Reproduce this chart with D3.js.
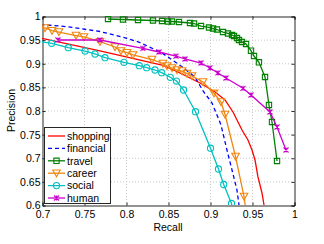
<!DOCTYPE html>
<html>
<head>
<meta charset="utf-8">
<script src="https://cdn.jsdelivr.net/npm/d3@7"></script>
<style>
  body { margin: 0; background: #fff; }
  svg { display: block; font-family: "Liberation Sans", Arial, sans-serif; }
</style>
</head>
<body>
<div id="app"></div>
<script>
(function (d3) {
  'use strict'

  // data (recall, precision)
  const shoppingRecall = [0.69, 0.7, 0.769, 0.8429, 0.8643, 0.8881, 0.906, 0.9179, 0.9274, 0.9381, 0.9452, 0.95, 0.9536, 0.9571, 0.9619, 0.9643, 0.966]
  const shoppingPrec = [0.955, 0.9528, 0.926, 0.8963, 0.8794, 0.8582, 0.8392, 0.8222, 0.7968, 0.7587, 0.7376, 0.7164, 0.6952, 0.6593, 0.6254, 0.6, 0.58]

  const financialRecall = [0.69, 0.7, 0.7298, 0.769, 0.8012, 0.8167, 0.8429, 0.8667, 0.8821, 0.8917, 0.9024, 0.9131, 0.9202, 0.9262, 0.9321, 0.9345, 0.936]
  const financialPrec = [0.984, 0.982, 0.9774, 0.9672, 0.9528, 0.9439, 0.9217, 0.8927, 0.8709, 0.8413, 0.8159, 0.7693, 0.7164, 0.6741, 0.6317, 0.6, 0.58]

  const travelRecall = [0.7786, 0.7964, 0.8143, 0.8321, 0.8429, 0.85, 0.8548, 0.8631, 0.8762, 0.881, 0.8893, 0.8988, 0.9036, 0.9083, 0.9155, 0.9214, 0.9262, 0.9286, 0.9321, 0.9345, 0.9381, 0.9429, 0.9488, 0.9524, 0.9583, 0.9655, 0.9702, 0.9738, 0.9798]
  const travelPrec = [0.9937, 0.9926, 0.9915, 0.9905, 0.9894, 0.9884, 0.9884, 0.9873, 0.9852, 0.9841, 0.9788, 0.9757, 0.9735, 0.9714, 0.9661, 0.963, 0.9598, 0.9577, 0.9534, 0.9492, 0.945, 0.9407, 0.9266, 0.9153, 0.902, 0.8709, 0.8116, 0.7757, 0.6931]

  const careerRecall = [0.69, 0.7036, 0.7119, 0.7202, 0.7405, 0.75, 0.769, 0.7869, 0.794, 0.8012, 0.8083, 0.831, 0.844, 0.8488, 0.8548, 0.8607, 0.8667, 0.8726, 0.8786, 0.8917, 0.9048, 0.9131, 0.9179, 0.9304, 0.9405, 0.9445]
  const careerPrec = [0.978, 0.9746, 0.9689, 0.9661, 0.9587, 0.9556, 0.9456, 0.9344, 0.9259, 0.9223, 0.9175, 0.9079, 0.8995, 0.8942, 0.8899, 0.8857, 0.8836, 0.8783, 0.873, 0.8603, 0.8364, 0.818, 0.7915, 0.7026, 0.618, 0.565]

  const socialRecall = [0.69, 0.7115, 0.7313, 0.7512, 0.7631, 0.775, 0.7976, 0.8158, 0.8246, 0.8345, 0.8425, 0.8527, 0.8601, 0.8685, 0.8827, 0.9006, 0.9101, 0.9163, 0.9256, 0.929]
  const socialPrec = [0.948, 0.9422, 0.9329, 0.9259, 0.9196, 0.9117, 0.902, 0.8948, 0.8906, 0.8857, 0.88, 0.8703, 0.8624, 0.8434, 0.7975, 0.7202, 0.6762, 0.6434, 0.6032, 0.57]

  const humanRecall = [0.719, 0.769, 0.8202, 0.8393, 0.8595, 0.8702, 0.8893, 0.9, 0.9095, 0.919, 0.9393, 0.9488, 0.9714, 0.9798, 0.9905]
  const humanPrec = [0.9492, 0.9492, 0.9316, 0.9238, 0.9153, 0.909, 0.9005, 0.89, 0.8794, 0.8688, 0.847, 0.8328, 0.7968, 0.7651, 0.7164]

  const xTicks = [0.7, 0.75, 0.8, 0.85, 0.9, 0.95, 1]
  const yTicks = [0.6, 0.65, 0.7, 0.75, 0.8, 0.85, 0.9, 0.95, 1]

  const series = [
    { name: 'shopping', x: shoppingRecall, y: shoppingPrec, color: '#ff0000', dash: null, marker: null },
    { name: 'financial', x: financialRecall, y: financialPrec, color: '#0000ff', dash: '4,3', marker: null },
    { name: 'travel', x: travelRecall, y: travelPrec, color: '#008000', dash: null, marker: 'square' },
    { name: 'career', x: careerRecall, y: careerPrec, color: '#f0860f', dash: null, marker: 'tri' },
    { name: 'social', x: socialRecall, y: socialPrec, color: '#00c0c0', dash: null, marker: 'circle' },
    { name: 'human', x: humanRecall, y: humanPrec, color: '#cc00cc', dash: null, marker: 'cross' }
  ]

  const w = 324
  const h = 244
  const left = 42
  const right = 294
  const top = 16
  const bottom = 205

  const svg = d3.select('#app').append('svg')
    .attr('width', w)
    .attr('height', h)

  const xScale = d3.scaleLinear().domain([0.7, 1]).range([left, right])
  const yScale = d3.scaleLinear().domain([0.6, 1]).range([bottom, top])

  svg.append('defs').append('clipPath').attr('id', 'plot')
    .append('rect')
    .attr('x', left).attr('y', top)
    .attr('width', right - left).attr('height', bottom - top)

  // grid
  svg.append('g')
    .selectAll('line.gx')
    .data(xTicks.slice(1, -1))
    .enter().append('line')
    .attr('x1', d => xScale(d) + 0.5).attr('x2', d => xScale(d) + 0.5)
    .attr('y1', top).attr('y2', bottom)
    .attr('stroke', '#c8c8c8').attr('stroke-dasharray', '1,2')
  svg.append('g')
    .selectAll('line.gy')
    .data(yTicks.slice(1, -1))
    .enter().append('line')
    .attr('y1', d => yScale(d) + 0.5).attr('y2', d => yScale(d) + 0.5)
    .attr('x1', left).attr('x2', right)
    .attr('stroke', '#c8c8c8').attr('stroke-dasharray', '1,2')

  // axes, ticks inside like matlab
  const xAxis = d3.axisBottom(xScale).tickValues(xTicks).tickSize(-3).tickPadding(5).tickFormat(d3.format('~g'))
  const yAxis = d3.axisLeft(yScale).tickValues(yTicks).tickSize(-3).tickPadding(2).tickFormat(d3.format('~g'))

  const gx = svg.append('g').attr('transform', 'translate(0.5,' + (bottom + 0.5) + ')').call(xAxis)
  const gy = svg.append('g').attr('transform', 'translate(' + (left + 0.5) + ',0.5)').call(yAxis)
  svg.append('g').attr('transform', 'translate(0.5,' + (top + 0.5) + ')')
    .call(d3.axisTop(xScale).tickValues(xTicks).tickSize(-3).tickFormat(''))
  svg.append('g').attr('transform', 'translate(' + (right + 0.5) + ',0.5)')
    .call(d3.axisRight(yScale).tickValues(yTicks).tickSize(-3).tickFormat(''))

  svg.selectAll('.domain').attr('stroke', '#262626')
  svg.selectAll('.tick line').attr('stroke', '#262626')
  svg.selectAll('.tick text')
    .style('font-size', '10.5px')
    .style('font-family', '"Liberation Sans", Arial, sans-serif')
    .attr('fill', '#000')

  const markerPath = function (type) {
    if (type === 'square') return d3.symbol(d3.symbolSquare, 28)()
    if (type === 'tri') return 'M-3.8,-3.2L3.8,-3.2L0,3.6Z'
    if (type === 'circle') return d3.symbol(d3.symbolCircle, 30)()
    if (type === 'cross') return 'M-2.5,-2.5L2.5,2.5M-2.5,2.5L2.5,-2.5M0,-2.5L0,2.5'
    return null
  }

  const line = d3.line().x(d => xScale(d[0])).y(d => yScale(d[1]))
  const plot = svg.append('g').attr('clip-path', 'url(#plot)')

  series.forEach(function (s) {
    const pts = s.x.map((v, i) => [v, s.y[i]])
    plot.append('path')
      .datum(pts)
      .attr('d', line)
      .attr('fill', 'none')
      .attr('stroke', s.color)
      .attr('stroke-width', 1.3)
      .attr('stroke-dasharray', s.dash)
    if (s.marker) {
      plot.selectAll(null)
        .data(pts)
        .enter().append('path')
        .attr('d', markerPath(s.marker))
        .attr('transform', d => 'translate(' + xScale(d[0]) + ',' + yScale(d[1]) + ')')
        .attr('fill', 'none')
        .attr('stroke', s.color)
        .attr('stroke-width', 1.1)
    }
  })

  // legend
  const lg = svg.append('g')
  lg.append('rect')
    .attr('x', 44.5).attr('y', 127.5)
    .attr('width', 66).attr('height', 76)
    .attr('fill', '#fff').attr('stroke', '#262626').attr('stroke-width', 1)
  series.forEach(function (s, i) {
    const ly = 136 + i * 12.4
    lg.append('line')
      .attr('x1', 48).attr('x2', 65).attr('y1', ly).attr('y2', ly)
      .attr('stroke', s.color).attr('stroke-width', 1.3)
      .attr('stroke-dasharray', s.dash)
    if (s.marker) {
      lg.append('path')
        .attr('d', markerPath(s.marker))
        .attr('transform', 'translate(56.5,' + ly + ')')
        .attr('fill', 'none').attr('stroke', s.color).attr('stroke-width', 1.1)
    }
    lg.append('text')
      .attr('x', 67).attr('y', ly + 3.8)
      .style('font-size', '10.5px')
      .text(s.name)
  })

  // axis labels
  svg.append('text')
    .attr('x', (left + right) / 2).attr('y', 231)
    .attr('text-anchor', 'middle')
    .style('font-size', '10.5px')
    .text('Recall')
  svg.append('text')
    .attr('transform', 'rotate(-90)')
    .attr('x', -(top + bottom) / 2).attr('y', 15)
    .attr('text-anchor', 'middle')
    .style('font-size', '10.5px')
    .text('Precision')
}(d3))
</script>
</body>
</html>
